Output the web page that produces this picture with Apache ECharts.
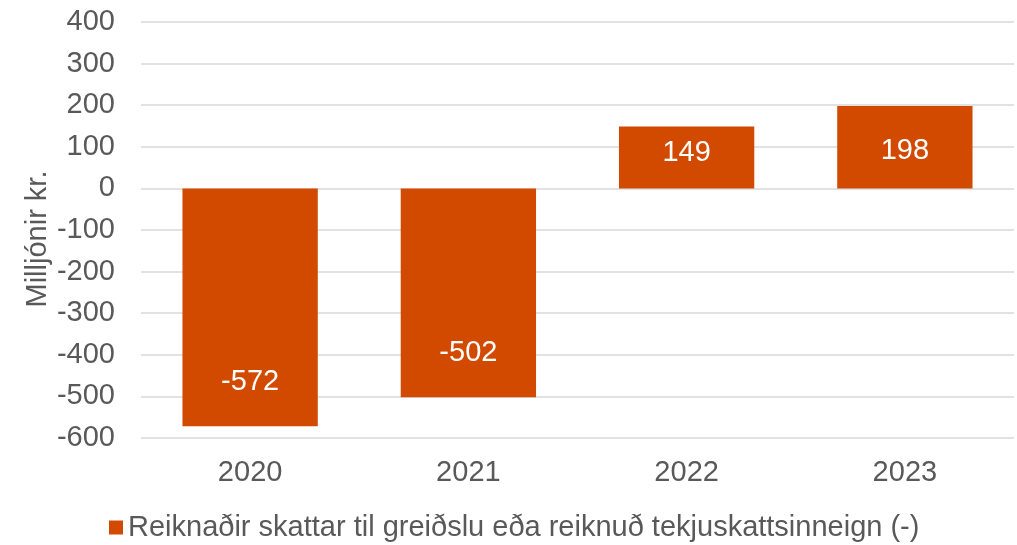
<!DOCTYPE html>
<html>
<head>
<meta charset="utf-8">
<script src="https://cdn.jsdelivr.net/npm/echarts@6/dist/echarts.min.js"></script>
<style>
  html, body { margin: 0; padding: 0; background: #fff; }
  #chart { width: 1017px; height: 545px; }
</style>
</head>
<body>
<div id="chart"></div>
<script>
  // data
  const years = ['2020', '2021', '2022', '2023'];
  const values = [-572, -502, 149, 198];
  const seriesName = 'Reiknaðir skattar til greiðslu eða reiknuð tekjuskattsinneign (-)';
  const axisName = 'Milljónir kr.';

  const font = '"Liberation Sans", Arial, sans-serif';
  const grey = '#595959';
  const barColor = '#D24A00';
  const fs = 29;

  // label sits inside the bar, near its end
  const barData = values.map(function (v) {
    const dist = v === 149 ? 12 : 30;
    return {
      value: v,
      label: {
        position: v < 0 ? 'insideBottom' : 'insideTop',
        distance: dist
      }
    };
  });

  const chart = echarts.init(document.getElementById('chart'));
  chart.setOption({
    animation: false,
    textStyle: { fontFamily: font },
    grid: { left: 141, right: 3, top: 22, bottom: 107 },
    legend: {
      bottom: -2,
      left: 104,
      icon: 'rect',
      itemWidth: 14,
      itemHeight: 14,
      itemGap: 4,
      textStyle: { color: grey, fontSize: fs, fontFamily: font, width: 820 },
      data: [seriesName]
    },
    xAxis: {
      type: 'category',
      data: years,
      axisLine: { show: false },
      axisTick: { show: false },
      axisLabel: { color: grey, fontSize: fs, margin: 20, fontFamily: font }
    },
    yAxis: {
      type: 'value',
      min: -600,
      max: 400,
      interval: 100,
      name: axisName,
      nameLocation: 'middle',
      nameGap: 89,
      nameMoveOverlap: false,
      nameTextStyle: { color: grey, fontSize: fs, fontFamily: font, padding: [0, 18, 0, 0] },
      axisLine: { show: false },
      axisTick: { show: false },
      axisLabel: { color: grey, fontSize: fs, margin: 26, fontFamily: font },
      splitLine: { lineStyle: { color: '#d9d9d9', width: 1.5 } }
    },
    series: [{
      name: seriesName,
      type: 'bar',
      data: barData,
      barWidth: '62%',
      itemStyle: { color: barColor },
      label: {
        show: true,
        color: '#fff',
        fontSize: fs,
        fontFamily: font
      }
    }]
  });
</script>
</body>
</html>
